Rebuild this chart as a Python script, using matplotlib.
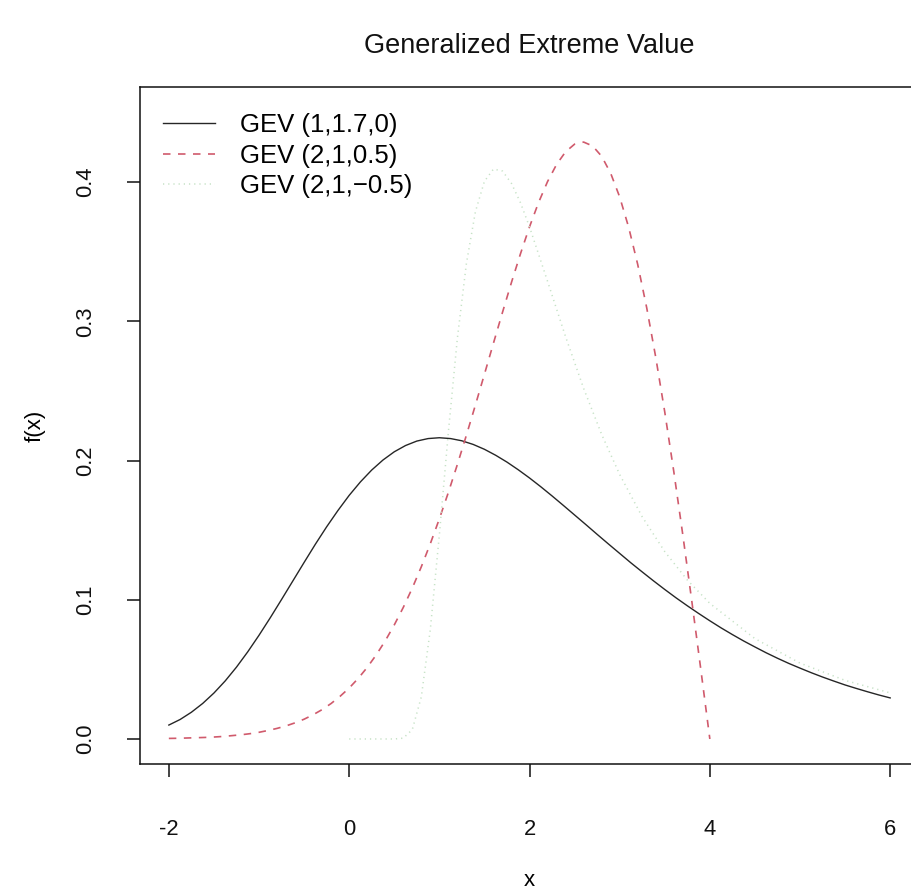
import matplotlib
matplotlib.use("Agg")
import matplotlib.pyplot as plt

plt.rcParams['font.family'] = ['Liberation Sans', 'DejaVu Sans']

# --- GEV densities ---
# GEV (1, 1.7, 0)
x_gumbel = [-2.0, -1.875, -1.75, -1.625, -1.5, -1.375, -1.25, -1.125, -1.0,
            -0.875, -0.75, -0.625, -0.5, -0.375, -0.25, -0.125, 0.0, 0.125,
            0.25, 0.375, 0.5, 0.625, 0.75, 0.875, 1.0, 1.125, 1.25, 1.375,
            1.5, 1.625, 1.75, 1.875, 2.0, 2.125, 2.25, 2.375, 2.5, 2.625,
            2.75, 2.875, 3.0, 3.125, 3.25, 3.375, 3.5, 3.625, 3.75, 3.875,
            4.0, 4.125, 4.25, 4.375, 4.5, 4.625, 4.75, 4.875, 5.0, 5.125,
            5.25, 5.375, 5.5, 5.625, 5.75, 5.875, 6.0]
f_gumbel = [0.0100, 0.0140, 0.0192, 0.0255, 0.0330, 0.0417, 0.0516, 0.0626,
            0.0745, 0.0871, 0.1002, 0.1135, 0.1268, 0.1399, 0.1524, 0.1641,
            0.1750, 0.1847, 0.1932, 0.2004, 0.2063, 0.2108, 0.2140, 0.2158,
            0.2164, 0.2158, 0.2142, 0.2116, 0.2081, 0.2038, 0.1989, 0.1934,
            0.1875, 0.1812, 0.1746, 0.1678, 0.1609, 0.1540, 0.1470, 0.1401,
            0.1333, 0.1265, 0.1200, 0.1136, 0.1074, 0.1014, 0.0957, 0.0902,
            0.0849, 0.0798, 0.0750, 0.0704, 0.0661, 0.0619, 0.0580, 0.0543,
            0.0509, 0.0476, 0.0445, 0.0416, 0.0388, 0.0363, 0.0339, 0.0316,
            0.0295]

# GEV (2, 1, 0.5)
x_weibull = [-2.0, -1.9, -1.8, -1.7, -1.6, -1.5, -1.4, -1.3, -1.2, -1.1,
             -1.0, -0.9, -0.8, -0.7, -0.6, -0.5, -0.4, -0.3, -0.2, -0.1, 0.0,
             0.1, 0.2, 0.3, 0.4, 0.5, 0.6, 0.7, 0.8, 0.9, 1.0, 1.1, 1.2, 1.3,
             1.4, 1.5, 1.6, 1.7, 1.8, 1.9, 2.0, 2.1, 2.2, 2.3, 2.4, 2.5, 2.6,
             2.7, 2.8, 2.9, 3.0, 3.1, 3.2, 3.3, 3.4, 3.5, 3.6, 3.7, 3.8, 3.9,
             4.0]
f_weibull = [0.0004, 0.0005, 0.0007, 0.0009, 0.0011, 0.0014, 0.0018, 0.0024,
             0.0030, 0.0038, 0.0048, 0.0061, 0.0076, 0.0094, 0.0116, 0.0142,
             0.0174, 0.0211, 0.0255, 0.0307, 0.0366, 0.0435, 0.0514, 0.0604,
             0.0705, 0.0819, 0.0945, 0.1084, 0.1237, 0.1403, 0.1581, 0.1771,
             0.1972, 0.2182, 0.2399, 0.2620, 0.2843, 0.3064, 0.3280, 0.3486,
             0.3679, 0.3853, 0.4004, 0.4127, 0.4218, 0.4273, 0.4288, 0.4260,
             0.4186, 0.4064, 0.3894, 0.3675, 0.3409, 0.3097, 0.2742, 0.2349,
             0.1922, 0.1467, 0.0990, 0.0499, 0.0000]

# GEV (2, 1, -0.5)
x_frechet = [0.0, 0.2, 0.4, 0.5, 0.6, 0.7, 0.8, 0.9, 1.0, 1.1, 1.2, 1.3, 1.4,
             1.5, 1.6, 1.7, 1.8, 1.9, 2.0, 2.2, 2.4, 2.6, 2.8, 3.0, 3.25, 3.5,
             3.75, 4.0, 4.5, 5.0, 5.5, 6.0]
f_frechet = [0.0, 0.0, 0.0, 0.0, 0.0006, 0.0067, 0.0302, 0.0787, 0.1465,
             0.2204, 0.2879, 0.3415, 0.3788, 0.4006, 0.4094, 0.4080, 0.3991,
             0.3852, 0.3679, 0.3288, 0.2890, 0.2519, 0.2188, 0.1900, 0.1596,
             0.1346, 0.1142, 0.0974, 0.0721, 0.0545, 0.0421, 0.0331]

labels = ['GEV (1,1.7,0)', 'GEV (2,1,0.5)', 'GEV (2,1,\u22120.5)']
x_ticks = [-2, 0, 2, 4, 6]
y_ticks = [0.0, 0.1, 0.2, 0.3, 0.4]

fig = plt.figure(figsize=(9.12, 8.91), dpi=100)
ax = fig.add_axes([0.1535, 0.1425, 0.8542, 0.7593])

ax.plot(x_gumbel, f_gumbel, color='#262626', lw=1.0, label=labels[0])
ax.plot(x_weibull, f_weibull, color='#d05a6c', lw=1.2,
        linestyle=(0, (4.5, 4.5)), label=labels[1])
ax.plot(x_frechet, f_frechet, color='#c6e2c6', lw=1.1,
        linestyle=(0, (0.8, 2.6)), label=labels[2])

ax.set_xlim(-2.32, 6.32)
ax.set_ylim(-0.018, 0.468)
ax.set_xticks(x_ticks)
ax.set_xticklabels([str(v) for v in x_ticks])
ax.set_yticks(y_ticks)
ax.set_yticklabels(['%.1f' % v for v in y_ticks], rotation=90, va='center')

for side in ['left', 'bottom', 'top', 'right']:
    ax.spines[side].set_linewidth(1.1)
    ax.spines[side].set_color('#111111')
ax.tick_params(axis='both', direction='out', length=9.5, width=1.1,
               labelsize=15.8, colors='#111111')
ax.tick_params(axis='x', pad=30)
ax.tick_params(axis='y', pad=22)

ax.set_xlabel('x', fontsize=16, va='baseline')
ax.set_ylabel('f(x)', fontsize=16, va='center')
ax.xaxis.set_label_coords((529.5 - 140) / 779, (764 - 886) / 676.5)
ax.yaxis.set_label_coords((35 - 140) / 779, 0.5)

fig.text(529.5 / 912, 1 - 46 / 891, 'Generalized Extreme Value',
         ha='center', va='center', fontsize=19.5, color='#111111')

ax.legend(loc='upper left', bbox_to_anchor=(0.0295, 0.9616), frameon=False,
          borderaxespad=0, borderpad=0, handlelength=2.02, handletextpad=0.97,
          labelspacing=0.25, fontsize=18.5)

fig.savefig('out.png', dpi=100)
